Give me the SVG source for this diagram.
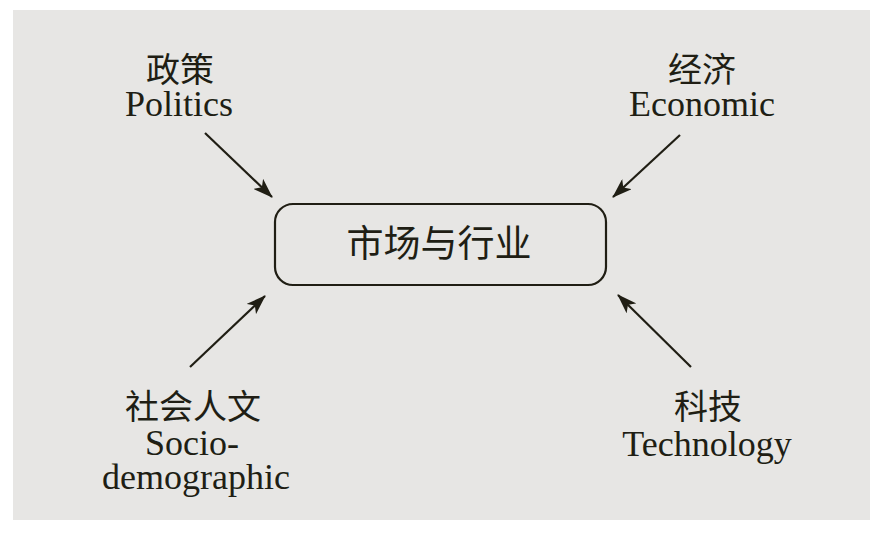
<svg xmlns="http://www.w3.org/2000/svg" width="882" height="545" viewBox="0 0 882 545">
<style>
text{font-family:"Liberation Serif","Noto Sans CJK SC",serif;fill:#201e14;text-anchor:middle;font-size:36px}
.c{font-size:34px}
.m{font-size:37px}
.conn line{stroke:#201e14;stroke-width:2.2;fill:none}
</style>
<defs>
<marker id="ah" viewBox="0 0 20 14" refX="19" refY="7" markerWidth="20" markerHeight="14" markerUnits="userSpaceOnUse" orient="auto">
<path d="M0,0 L20,7 L0,14 L5,7 Z" fill="#201e14"/>
</marker>
</defs>
<rect x="0" y="0" width="882" height="545" fill="#ffffff"/>
<rect x="13" y="10" width="857" height="510" fill="#e7e6e4"/>
<g id="center">
<rect x="275" y="204" width="331" height="81" rx="18" fill="none" stroke="#201e14" stroke-width="2.2"/>
<text x="439" y="257" class="m">市场与行业</text>
</g>
<g id="politics">
<text x="180" y="82" class="c">政策</text>
<text x="179" y="116">Politics</text>
</g>
<g id="economic">
<text x="702" y="82" class="c">经济</text>
<text x="702" y="116">Economic</text>
</g>
<g id="social">
<text x="193" y="419" class="c">社会人文</text>
<text x="192" y="455">Socio-</text>
<text x="196" y="489">demographic</text>
</g>
<g id="technology">
<text x="708" y="419" class="c">科技</text>
<text x="707" y="456">Technology</text>
</g>
<g class="conn">
<line x1="205" y1="133" x2="272" y2="197" marker-end="url(#ah)"/>
<line x1="680" y1="135" x2="613" y2="197" marker-end="url(#ah)"/>
<line x1="190" y1="367" x2="265" y2="296" marker-end="url(#ah)"/>
<line x1="691" y1="367" x2="618" y2="295" marker-end="url(#ah)"/>
</g>
</svg>
